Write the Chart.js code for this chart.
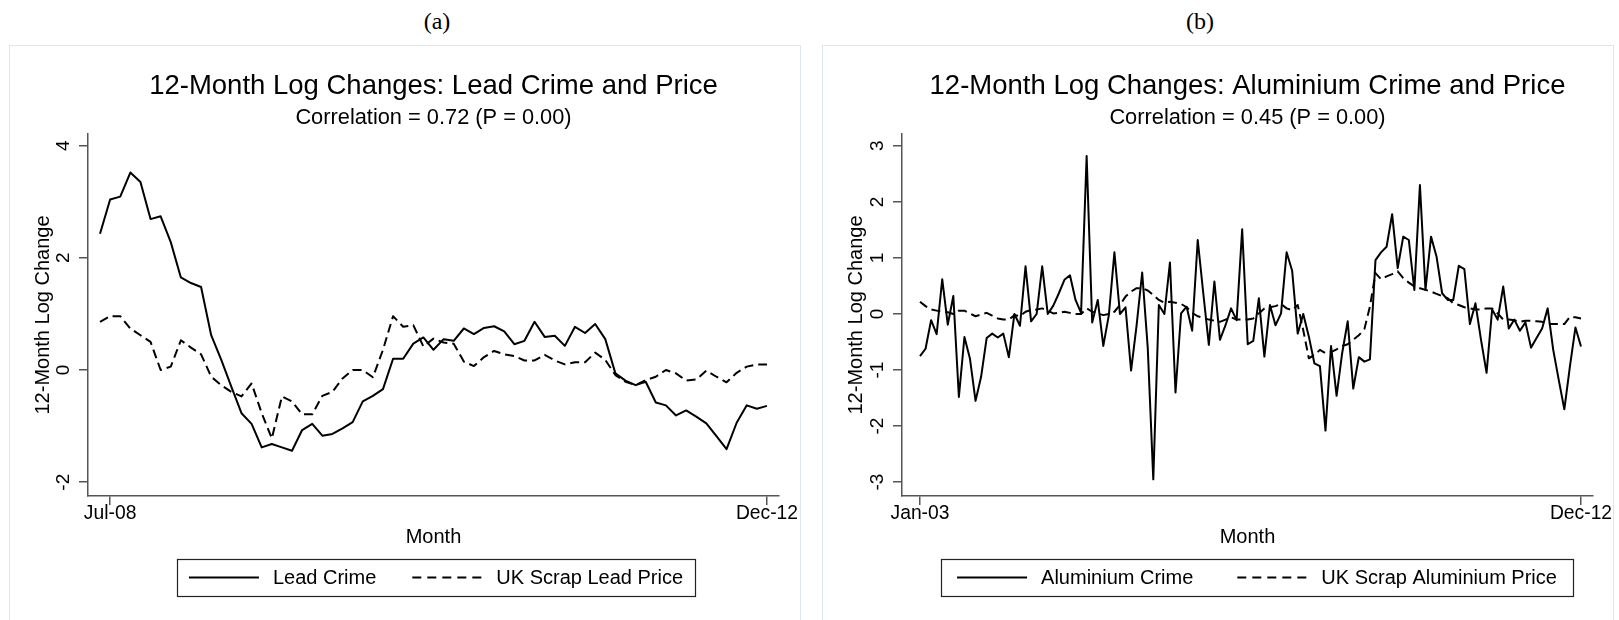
<!DOCTYPE html>
<html>
<head>
<meta charset="utf-8">
<script src="https://cdn.jsdelivr.net/npm/chart.js@4.4.0/dist/chart.umd.min.js"></script>
<style>
  body { margin: 0; background: #fff; width: 1619px; height: 620px; overflow: hidden; position: relative; }
  .cap { position: absolute; top: 7px; line-height: 28px; font-family: "Liberation Serif", serif; font-size: 24px; transform: translateX(-50%); }
  .panel { position: absolute; top: 45px; height: 600px; border: 1px solid #dde6ea; }
  canvas { position: absolute; top: 0; }
</style>
</head>
<body>
<div class="cap" style="left:437px">(a)</div>
<div class="cap" style="left:1200px">(b)</div>
<div class="panel" style="left:9px;width:790px"></div>
<div class="panel" style="left:822px;width:790px"></div>
<canvas id="leadChart" width="810" height="620" style="left:0"></canvas>
<canvas id="aluChart" width="809" height="620" style="left:810px"></canvas>
<script>
// ---- data ----
const leadTickLabels = ['Jul-08', 'Dec-12'];
const leadTickIdx = [1, 66];
const leadYTicks = [-2, 0, 2, 4];
const leadCrime = [2.43, 3.04, 3.09, 3.52, 3.35, 2.69, 2.74, 2.28, 1.65, 1.55, 1.48, 0.62, 0.18, -0.30, -0.77, -0.96,
  -1.38, -1.32, -1.38, -1.44, -1.07, -0.96, -1.17, -1.14, -1.04, -0.93, -0.56, -0.46, -0.34, 0.20, 0.20, 0.47,
  0.58, 0.36, 0.55, 0.52, 0.74, 0.64, 0.75, 0.78, 0.69, 0.46, 0.52, 0.86, 0.59, 0.61, 0.43, 0.77, 0.66, 0.82,
  0.55, -0.06, -0.19, -0.27, -0.21, -0.58, -0.63, -0.81, -0.72, -0.83, -0.95, -1.18, -1.41, -0.94, -0.63, -0.69, -0.64];
const leadPrice = [0.86, 0.96, 0.96, 0.74, 0.62, 0.50, 0.00, 0.06, 0.53, 0.40, 0.28, -0.12, -0.27, -0.39, -0.47, -0.24,
  -0.77, -1.22, -0.47, -0.56, -0.79, -0.79, -0.46, -0.39, -0.15, 0.00, 0.00, -0.13, 0.36, 0.96, 0.77, 0.80,
  0.42, 0.56, 0.49, 0.47, 0.15, 0.07, 0.23, 0.34, 0.28, 0.25, 0.17, 0.17, 0.27, 0.17, 0.10, 0.14, 0.14, 0.31,
  0.18, -0.09, -0.21, -0.27, -0.18, -0.12, 0.00, -0.06, -0.19, -0.17, -0.01, -0.12, -0.22, -0.05, 0.06, 0.10, 0.10];

const aluTickLabels = ['Jan-03', 'Dec-12'];
const aluTickIdx = [0, 119];
const aluYTicks = [-3, -2, -1, 0, 1, 2, 3];
const aluCrime = [-0.75, -0.62, -0.11, -0.36, 0.62, -0.19, 0.32, -1.48, -0.41, -0.80, -1.55, -1.12, -0.43, -0.35, -0.42, -0.35,
  -0.77, 0.00, -0.21, 0.85, -0.13, 0.00, 0.85, 0.00, 0.15, 0.37, 0.61, 0.69, 0.25, 0.02, 2.82, -0.15,
  0.25, -0.57, -0.02, 1.10, 0.00, 0.12, -1.01, -0.20, 0.74, -0.60, -2.95, 0.16, 0.00, 0.92, -1.40, 0.01,
  0.13, -0.30, 1.32, 0.37, -0.55, 0.58, -0.46, -0.20, 0.10, -0.11, 1.51, -0.54, -0.48, 0.28, -0.76, 0.16,
  -0.20, 0.01, 1.10, 0.77, -0.35, 0.00, -0.40, -0.88, -0.93, -2.08, -0.57, -1.46, -0.70, -0.13, -1.33, -0.77,
  -0.85, -0.81, 0.96, 1.10, 1.20, 1.78, 0.82, 1.38, 1.32, 0.43, 2.30, 0.43, 1.38, 1.02, 0.37, 0.25,
  0.25, 0.86, 0.80, -0.18, 0.19, -0.46, -1.05, 0.08, -0.10, 0.49, -0.26, -0.10, -0.30, -0.15, -0.60, -0.43,
  -0.26, 0.10, -0.64, -1.18, -1.70, -0.94, -0.24, -0.58];
const aluPrice = [0.22, 0.14, 0.08, 0.06, 0.04, 0.03, 0.00, 0.06, 0.06, 0.01, -0.04, -0.01, 0.02, -0.03, -0.08, -0.10,
  -0.10, -0.02, -0.04, 0.04, 0.07, 0.08, 0.10, 0.06, 0.01, 0.02, 0.04, 0.02, 0.00, 0.00, 0.10, 0.04,
  0.01, -0.02, 0.00, 0.04, 0.16, 0.31, 0.40, 0.46, 0.46, 0.42, 0.34, 0.25, 0.20, 0.22, 0.20, 0.18,
  0.12, 0.02, -0.04, -0.07, -0.10, -0.12, -0.14, -0.10, -0.06, -0.10, -0.10, -0.10, -0.08, 0.01, 0.10, 0.12,
  0.14, 0.18, 0.10, 0.07, 0.16, -0.29, -0.79, -0.73, -0.64, -0.70, -0.68, -0.63, -0.57, -0.54, -0.46, -0.38,
  -0.27, 0.13, 0.73, 0.62, 0.67, 0.71, 0.76, 0.64, 0.56, 0.49, 0.46, 0.43, 0.40, 0.36, 0.32, 0.28,
  0.19, 0.16, 0.12, 0.10, 0.08, 0.08, 0.10, 0.10, 0.01, -0.10, -0.10, -0.11, -0.14, -0.12, -0.12, -0.13,
  -0.14, -0.18, -0.18, -0.18, -0.18, -0.05, -0.06, -0.08];

Chart.defaults.font.family = '"Liberation Sans", Arial, sans-serif';
Chart.defaults.color = '#000';

const FONT = '"Liberation Sans", Arial, sans-serif';
const AXIS = '#555';

// rotated y tick labels and the boxed legend, Stata style
const stataExtras = {
  id: 'stataExtras',
  afterDraw(chart, args, opts) {
    const ctx = chart.ctx;
    const ys = chart.scales.y;
    ctx.save();
    ctx.fillStyle = '#000';
    ctx.font = '19px ' + FONT;
    ctx.textAlign = 'center';
    ctx.textBaseline = 'middle';
    ys.ticks.forEach(t => {
      ctx.save();
      ctx.translate(opts.tickX, ys.getPixelForValue(t.value));
      ctx.rotate(-Math.PI / 2);
      ctx.fillText(String(t.value), 0, 0);
      ctx.restore();
    });

    // legend
    ctx.font = '20px ' + FONT;
    const items = chart.data.datasets;
    const lineW = 70, pad = opts.legendPad, gapIn = 14, gapOut = opts.legendGap;
    const widths = items.map(d => ctx.measureText(d.label).width);
    let total = pad * 2 + gapOut;
    widths.forEach(w => { total += lineW + gapIn + w; });
    const left = opts.legendCx - total / 2;
    const top = opts.legendTop, h = opts.legendH;
    const cy = top + h / 2;
    ctx.strokeStyle = '#222';
    ctx.lineWidth = 1.2;
    ctx.strokeRect(Math.round(left) + 0.5, Math.round(top) + 0.5, Math.round(total), Math.round(h));
    let x = left + pad;
    ctx.textAlign = 'left';
    items.forEach((d, i) => {
      ctx.beginPath();
      ctx.setLineDash(d.borderDash && d.borderDash.length ? [9, 6] : []);
      ctx.lineWidth = 2;
      ctx.strokeStyle = '#000';
      ctx.moveTo(x, cy);
      ctx.lineTo(x + lineW, cy);
      ctx.stroke();
      ctx.setLineDash([]);
      x += lineW + gapIn;
      ctx.fillText(d.label, x, cy + 1);
      x += widths[i] + gapOut;
    });
    ctx.restore();
  }
};

function makeChart(id, s) {
  const pts = arr => arr.map((v, i) => ({ x: i, y: v }));
  return new Chart(document.getElementById(id), {
    type: 'line',
    data: {
      datasets: [
        { label: s.names[0], data: pts(s.crime), borderColor: '#000', borderWidth: 2, pointRadius: 0, borderJoinStyle: 'round' },
        { label: s.names[1], data: pts(s.price), borderColor: '#000', borderWidth: 2, pointRadius: 0, borderDash: [9, 5], borderJoinStyle: 'round' }
      ]
    },
    options: {
      responsive: false,
      animation: false,
      devicePixelRatio: 1,
      layout: { padding: { left: 0, right: s.padRight, top: 0, bottom: 70 } },
      plugins: {
        legend: { display: false },
        tooltip: { enabled: false },
        title: {
          display: true, text: s.title, fullSize: false, color: '#000',
          font: { size: 27.5, weight: 'normal', lineHeight: 1 },
          padding: { top: 72.75, bottom: 0 }
        },
        subtitle: {
          display: true, text: s.subtitle, fullSize: false, color: '#000',
          font: { size: 21.8, weight: 'normal', lineHeight: 1 },
          padding: { top: 6.85, bottom: 5.1 }
        },
        stataExtras: { tickX: s.tickX, legendCx: s.legendCx, legendTop: 559, legendH: 37, legendPad: s.legendPad, legendGap: s.legendGap }
      },
      scales: {
        x: {
          type: 'linear', min: s.xMin, max: s.xMax,
          afterBuildTicks: sc => { sc.ticks = s.tickIdx.map(v => ({ value: v })); },
          afterFit: sc => { sc.height = 54; sc.paddingLeft = 0; sc.paddingRight = 0; },
          ticks: {
            autoSkip: false, maxRotation: 0, padding: -1,
            font: { size: 19.3, lineHeight: 1 }, color: '#000',
            callback: (v, i) => s.tickLabels[i]
          },
          grid: { drawOnChartArea: false, tickLength: 9, color: AXIS, lineWidth: 1.5 },
          border: { color: AXIS, width: 1.5 },
          title: { display: true, text: 'Month', color: '#000', font: { size: 20, lineHeight: 1 }, padding: { top: 0, bottom: 3 } }
        },
        y: {
          min: s.yMin, max: s.yMax,
          afterBuildTicks: sc => { sc.ticks = s.yTicks.map(v => ({ value: v })); },
          afterFit: sc => { sc.width = s.yWidth; },
          ticks: { display: false },
          grid: { drawOnChartArea: false, tickLength: 9, color: AXIS, lineWidth: 1.5 },
          border: { color: AXIS, width: 1.5 },
          title: { display: true, text: '12-Month Log Change', color: '#000', font: { size: 20, lineHeight: 1 }, padding: { top: s.yTitlePad, bottom: 0 } }
        }
      }
    },
    plugins: [stataExtras]
  });
}

makeChart('leadChart', {
  names: ['Lead Crime', 'UK Scrap Lead Price'],
  crime: leadCrime, price: leadPrice,
  title: '12-Month Log Changes: Lead Crime and Price',
  subtitle: 'Correlation = 0.72 (P = 0.00)',
  tickIdx: leadTickIdx, tickLabels: leadTickLabels, yTicks: leadYTicks,
  xMin: -1.19, xMax: 67.19, yMin: -2.246, yMax: 4.207,
  yWidth: 88, padRight: 31, yTitlePad: 33.3, tickX: 64, legendCx: 436,
  legendPad: 12, legendGap: 36
});

makeChart('aluChart', {
  names: ['Aluminium Crime', 'UK Scrap Aluminium Price'],
  crime: aluCrime, price: aluPrice,
  title: '12-Month Log Changes: Aluminium Crime and Price',
  subtitle: 'Correlation = 0.45 (P = 0.00)',
  tickIdx: aluTickIdx, tickLabels: aluTickLabels, yTicks: aluYTicks,
  xMin: -3.24, xMax: 121.16, yMin: -3.247, yMax: 3.211,
  yWidth: 92, padRight: 26, yTitlePad: 36.7, tickX: 68, legendCx: 447,
  legendPad: 16, legendGap: 44
});
</script>
</body>
</html>
